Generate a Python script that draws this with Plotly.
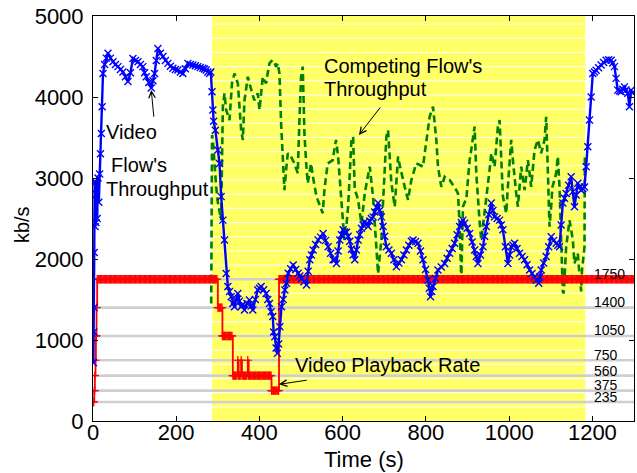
import numpy as np
import plotly.graph_objects as go

# ---------------- data ----------------
video_t = [1, 2, 2.5, 3, 4, 5, 6, 7, 8, 10, 12, 14, 16, 18, 20, 22, 24, 28, 32, 36, 42, 48, 54, 60, 66, 72,
           78, 84, 90, 96, 102, 108, 114, 120, 124, 128, 134, 140, 144, 148, 152, 156, 162, 168, 174, 180,
           186, 192, 198, 204, 210, 216, 222, 228, 234, 240, 246, 252, 258, 264, 268, 272, 276, 280, 283,
           286, 288, 290, 294, 300, 304, 308, 312, 316, 320, 324, 328, 332, 336, 340, 344, 348, 352, 356,
           360, 364, 370, 376, 380, 384, 390, 396, 400, 404, 410, 416, 420, 424, 428, 432, 434, 437, 440,
           443, 446, 449, 453, 457, 461, 465, 469, 475, 481, 487, 493, 497, 501, 507, 513, 517, 521, 525,
           529, 535, 541, 547, 553, 559, 565, 571, 577, 581, 585, 589, 593, 597, 601, 605, 609, 613, 617,
           621, 625, 629, 633, 637, 641, 645, 649, 653, 657, 661, 665, 669, 673, 677, 681, 685, 689, 693,
           697, 701, 705, 711, 717, 723, 729, 735, 741, 747, 753, 759, 765, 769, 775, 781, 787, 793, 799,
           805, 808, 811, 814, 817, 823, 829, 837, 845, 851, 857, 863, 869, 875, 881, 885, 889, 893, 899,
           905, 911, 917, 921, 925, 931, 937, 941, 945, 951, 957, 961, 965, 971, 977, 981, 985, 991, 997,
           1001, 1005, 1009, 1013, 1019, 1025, 1031, 1037, 1043, 1049, 1055, 1061, 1066, 1071, 1074, 1077,
           1083, 1089, 1095, 1101, 1107, 1113, 1117, 1121, 1125, 1129, 1133, 1137, 1143, 1149, 1153, 1157,
           1161, 1165, 1169, 1173, 1177, 1181, 1185, 1189, 1193, 1197, 1201, 1205, 1209, 1215, 1221, 1227,
           1233, 1239, 1245, 1249, 1253, 1257, 1261, 1265, 1269, 1273, 1277, 1281, 1285, 1289, 1293, 1296]
video_kbps = [720, 1100, 1400, 2080, 2950, 2400, 2950, 2450, 2800, 2500, 3000, 2700, 3050, 3300, 3550, 3880,
              4290, 4400, 4480, 4540, 4480, 4435, 4400, 4375, 4340, 4310, 4250, 4190, 4300, 4475, 4450, 4435,
              4400, 4375, 4300, 4250, 4180, 4110, 4200, 4290, 4450, 4600, 4540, 4500, 4450, 4415, 4380, 4355,
              4340, 4333, 4310, 4290, 4350, 4415, 4400, 4395, 4385, 4375, 4365, 4355, 4345, 4333, 4310, 4290,
              4310, 4065, 3840, 3700, 3590, 3345, 3180, 2770, 2480, 2235, 1820, 1660, 1600, 1535, 1450, 1410,
              1500, 1575, 1480, 1410, 1440, 1370, 1450, 1495, 1420, 1370, 1500, 1617, 1640, 1660, 1620, 1575,
              1500, 1450, 1350, 1290, 1100, 1040, 900, 835, 950, 1165, 1410, 1500, 1617, 1700, 1823, 1880,
              1925, 1870, 1823, 1790, 1760, 1720, 1680, 1850, 1990, 2050, 2110, 2180, 2235, 2270, 2315, 2230,
              2150, 2070, 1990, 1990, 1945, 2100, 2235, 2300, 2360, 2330, 2330, 2280, 2220, 2120, 2050, 1990,
              2110, 2235, 2300, 2380, 2420, 2460, 2430, 2400, 2470, 2500, 2520, 2580, 2640, 2690, 2600, 2520,
              2400, 2280, 2150, 2110, 2070, 1990, 1905, 1950, 1990, 2050, 2110, 2170, 2220, 2235, 2215, 2195,
              2100, 1990, 1870, 1740, 1640, 1535, 1600, 1660, 1760, 1865, 1900, 1945, 2010, 2070, 2130, 2195,
              2300, 2400, 2450, 2480, 2440, 2380, 2315, 2210, 2110, 2030, 1945, 2050, 2150, 2280, 2400, 2550,
              2690, 2600, 2520, 2500, 2480, 2420, 2360, 2150, 1945, 2050, 2150, 2170, 2195, 2130, 2070, 2030,
              1990, 1930, 1865, 1820, 1780, 1740, 1700, 1780, 1865, 1950, 2030, 2150, 2275, 2230, 2195, 2170,
              2150, 2420, 2690, 2750, 2810, 2910, 3015, 2830, 2645, 2790, 2935, 2890, 2850, 2870, 2890, 3140,
              3385, 3715, 4000, 4290, 4310, 4330, 4360, 4395, 4425, 4455, 4460, 4455, 4420, 4375, 4230, 4085,
              4075, 4065, 4095, 4125, 4085, 4045, 3880, 4085, 4050]

comp_t = [284, 285, 286, 288, 292, 296, 300, 304, 308, 310, 312, 316, 320, 324, 328, 334, 340, 344, 348, 352,
          356, 360, 364, 368, 372, 376, 380, 384, 388, 392, 396, 400, 404, 408, 412, 416, 420, 424, 428, 432,
          436, 440, 444, 448, 452, 456, 460, 464, 468, 472, 476, 480, 484, 488, 492, 496, 500, 504, 508, 512,
          516, 520, 524, 528, 532, 536, 540, 546, 552, 556, 560, 564, 570, 576, 580, 584, 589, 593, 597, 601,
          604, 607, 609, 613, 617, 621, 625, 629, 633, 637, 641, 645, 649, 653, 659, 665, 669, 673, 677, 681,
          685, 689, 693, 697, 701, 705, 709, 713, 717, 721, 725, 729, 733, 737, 741, 745, 749, 753, 757, 761,
          765, 771, 777, 785, 793, 797, 801, 805, 809, 813, 817, 821, 825, 829, 833, 837, 841, 845, 851, 857,
          863, 869, 873, 877, 881, 885, 889, 893, 897, 901, 905, 909, 913, 917, 921, 925, 929, 933, 937, 941,
          945, 949, 953, 957, 961, 965, 969, 973, 977, 981, 985, 989, 993, 997, 1001, 1005, 1009, 1013, 1017,
          1021, 1025, 1029, 1033, 1037, 1041, 1045, 1049, 1053, 1057, 1061, 1065, 1069, 1073, 1077, 1081,
          1085, 1089, 1093, 1097, 1101, 1104, 1109, 1113, 1117, 1121, 1125, 1129, 1131, 1134, 1137, 1141,
          1145, 1149, 1153, 1157, 1161, 1165, 1169, 1171, 1173, 1175, 1178, 1181, 1182]
comp_kbps = [1450, 2500, 3530, 3470, 3140, 2890, 2700, 2565, 2480, 3200, 3880, 4045, 3840, 3780, 3715, 4170,
             4290, 4230, 4170, 3880, 3590, 3470, 3960, 4100, 4250, 4170, 4085, 4020, 3960, 4000, 4045, 3840,
             4050, 4250, 4200, 4170, 4300, 4415, 4440, 4455, 4420, 4375, 4415, 4290, 3675, 3265, 2850, 3100,
             3305, 3290, 3265, 3220, 3180, 3120, 3060, 3700, 4250, 4375, 3550, 3200, 2935, 3060, 3180, 3030,
             2890, 2800, 2730, 2650, 2565, 2850, 3000, 3180, 3200, 3220, 3350, 3470, 3265, 3000, 2730, 2450,
             2235, 2300, 2400, 2645, 3050, 3470, 3510, 2850, 2800, 2730, 2580, 2440, 2620, 2810, 2980, 3140,
             2950, 2770, 2450, 2150, 1820, 2030, 2235, 2700, 3140, 3510, 3590, 3260, 2935, 2790, 2645, 2950,
             3265, 3160, 3060, 2970, 2890, 2810, 2730, 2850, 2975, 3080, 3180, 3160, 3140, 3300, 3470, 3600,
             3755, 3820, 3880, 3680, 3470, 3140, 3010, 2890, 2950, 3015, 2990, 2975, 2930, 2890, 2850, 2810,
             2420, 1740, 2645, 2700, 2730, 2980, 3220, 3350, 3470, 3635, 3060, 2690, 2460, 2235, 2400, 2565,
             2730, 2890, 3100, 3305, 3220, 3140, 3390, 3635, 3715, 3140, 2770, 2670, 2565, 2900, 3220, 3470,
             3220, 2975, 2810, 2645, 2900, 3140, 3000, 2850, 3030, 3220, 3060, 2890, 3120, 3345, 3410, 3470,
             3390, 3305, 3390, 3470, 3755, 2975, 2400, 2650, 2890, 2980, 3060, 3265, 2890, 2235, 1600, 1575,
             1850, 2150, 2310, 2480, 2360, 2235, 1945, 2010, 2070, 1800, 1740, 1600, 1865, 2000, 2150, 3300]

# playback rate: times at which the selected rate changes, and the new rate
rate_change_t = [0, 3, 4.5, 6, 7, 8.5, 10, 300, 311, 336, 348, 350, 356, 358, 372, 374, 429, 447]
rate_change_kbps = [235, 375, 560, 750, 1050, 1400, 1750, 1400, 1050, 560, 750, 560, 750, 560, 750, 560,
                    375, 1750]
rate_end_t = 1300
chunk_interval_s = 2

bitrate_levels = [235, 375, 560, 750, 1050, 1400, 1750]
bitrate_labels = ["235", "375", "560", "750", "1050", "1400", "1750"]
competition_start, competition_end = 286, 1183

x_ticks = [0, 200, 400, 600, 800, 1000, 1200]
y_ticks = [0, 1000, 2000, 3000, 4000, 5000]

# ---------------- build playback series (step function sampled per chunk) ----------------
sample_t = sorted(set(np.arange(0, rate_end_t + 1, chunk_interval_s).tolist()) | set(rate_change_t))
idx = np.searchsorted(rate_change_t, sample_t, side="right") - 1
rate_kbps = [rate_change_kbps[i] for i in idx]

FONT = "Liberation Sans, Arial, Helvetica, sans-serif"

fig = go.Figure()

fig.add_trace(go.Scatter(x=comp_t, y=comp_kbps, mode="lines",
                         line=dict(color="#008000", width=2.6, dash="7px,4px"),
                         hoverinfo="skip"))
fig.add_trace(go.Scatter(x=sample_t, y=rate_kbps, mode="lines+markers", line_shape="hv",
                         line=dict(color="#ff0000", width=1.8),
                         marker=dict(symbol="cross-thin", size=6, line=dict(color="#ff0000", width=1.2)),
                         hoverinfo="skip"))
fig.add_trace(go.Scatter(x=video_t, y=video_kbps, mode="lines+markers",
                         line=dict(color="#0000ff", width=2.4),
                         marker=dict(symbol="x-thin", size=7, line=dict(color="#0000ff", width=1.4)),
                         hoverinfo="skip"))

shapes = [dict(type="rect", xref="x", yref="y", x0=competition_start, x1=competition_end, y0=0, y1=5000,
               fillcolor="#ffff66", line=dict(width=0), layer="below")]
for k in range(1, 29):
    shapes.append(dict(type="line", xref="x", yref="y", x0=competition_start, x1=competition_end,
                       y0=k * 175, y1=k * 175, line=dict(color="white", width=1), layer="below"))
for lv in bitrate_levels:
    shapes.append(dict(type="line", xref="x", yref="y", x0=0, x1=1300, y0=lv, y1=lv,
                       line=dict(color="#cfcfcf", width=2.6), layer="below"))

annotations = []
label_offsets = [62, 70, 62, 65, 70, 70, 65]
for lv, lab, off in zip(bitrate_levels, bitrate_labels, label_offsets):
    annotations.append(dict(x=1199, y=lv + off, xref="x", yref="y", text=lab, showarrow=False,
                            xanchor="left", yanchor="middle", font=dict(size=14, color="black", family=FONT)))

def txt(x, y, s, anchor="left", size=20):
    annotations.append(dict(x=x, y=y, xref="x", yref="y", text=s, showarrow=False, xanchor=anchor,
                            yanchor="middle", font=dict(size=size, color="black", family=FONT)))

def arrow(x, y, ax, ay):
    annotations.append(dict(x=x, y=y, ax=ax, ay=ay, xref="x", yref="y", axref="x", ayref="y", text="",
                            showarrow=True, arrowhead=5, arrowsize=1.3, arrowwidth=1, arrowcolor="black"))

txt(27, 3570, "Video")
txt(39, 3160, "Flow's")
txt(27, 2870, "Throughput")
arrow(140, 4086, 146.5, 3737)

txt(550, 4380, "Competing Flow's")
txt(550, 4100, "Throughput")
arrow(639, 3531, 693, 3889)

txt(481, 695, "Video Playback Rate")
arrow(447, 453, 517, 506)

annotations.append(dict(x=0.5, y=-0.096, xref="paper", yref="paper", text="Time (s)", showarrow=False,
                        xanchor="center", yanchor="middle", font=dict(size=22, color="black", family=FONT)))
annotations.append(dict(x=-0.131, y=0.484, xref="paper", yref="paper", text="kb/s", showarrow=False,
                        textangle=-90, xanchor="center", yanchor="middle",
                        font=dict(size=20, color="black", family=FONT)))

axis_common = dict(showgrid=False, zeroline=False, showline=True, linecolor="black", linewidth=1,
                   mirror="ticks", ticks="inside", ticklen=5, tickwidth=1, tickcolor="black",
                   tickfont=dict(size=22, color="black", family=FONT))

fig.update_layout(
    width=637, height=473,
    margin=dict(l=93, r=3, t=16, b=52),
    plot_bgcolor="white", paper_bgcolor="white",
    showlegend=False,
    xaxis=dict(range=[0, 1300], tickvals=x_ticks, ticktext=[str(v) for v in x_ticks], ticklabelstandoff=-8,
               **axis_common),
    yaxis=dict(range=[0, 5000], tickvals=y_ticks, ticktext=[str(v) for v in y_ticks], ticklabelstandoff=4,
               **axis_common),
    shapes=shapes,
    annotations=annotations,
)

fig.write_html("out.html", config={"displayModeBar": False},
               post_script="document.body.style.margin='0px';document.body.style.padding='0px';")
